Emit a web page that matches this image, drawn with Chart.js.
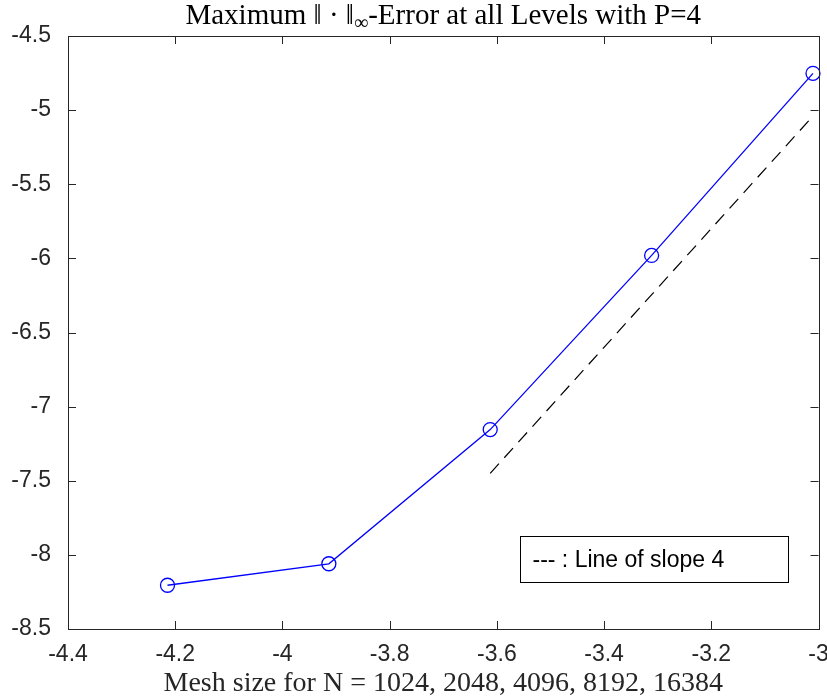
<!DOCTYPE html>
<html>
<head>
<meta charset="utf-8">
<script src="https://cdn.jsdelivr.net/npm/chart.js@4.4.0/dist/chart.umd.min.js"></script>
<style>
  html, body { margin: 0; padding: 0; background: #fff; overflow: hidden; }
  #wrap { width: 827px; height: 700px; }
  #errChart { display: block; }
</style>
</head>
<body>
<div id="wrap"><canvas id="errChart"></canvas></div>
<script>
// log10 of the mesh size h = 1/N
const meshSize = [-4.2144, -3.9134, -3.6124, -3.3113, -3.0103];
const maxError = [-8.205, -8.06, -7.155, -5.98, -4.752];
// reference line of slope 4
const slopeX = [-3.6124, -3.0103];
const slopeY = [-7.45, -5.04];
const xTicks = [-4.4, -4.2, -4, -3.8, -3.6, -3.4, -3.2, -3];
const yTicks = [-8.5, -8, -7.5, -7, -6.5, -6, -5.5, -5, -4.5];
const legendText = '--- : Line of slope 4';
// title pieces: [text, is subscript]
const titleParts = [['Maximum \u2016 \u00b7 \u2016', false], ['\u221e', true], ['-Error at all Levels with P=4', false]];

const axisColor = '#262626';
const tickFont = { family: '"Liberation Sans", Arial, sans-serif', size: 23 };
const serifFamily = '"Liberation Serif", "Times New Roman", serif';

// Box around the plot with inward tick marks (MATLAB style) + legend + title
const framePlugin = {
  id: 'frame',
  afterDatasetsDraw(chart) {
    const { ctx, chartArea: a, scales } = chart;
    const tl = 8;
    ctx.save();
    ctx.strokeStyle = axisColor;
    ctx.lineWidth = 1;
    ctx.beginPath();
    xTicks.forEach(v => {
      const px = Math.round(scales.x.getPixelForValue(v)) + 0.5;
      ctx.moveTo(px, a.bottom); ctx.lineTo(px, a.bottom - tl);
      ctx.moveTo(px, a.top); ctx.lineTo(px, a.top + tl);
    });
    yTicks.forEach(v => {
      const py = Math.round(scales.y.getPixelForValue(v)) + 0.5;
      ctx.moveTo(a.left, py); ctx.lineTo(a.left + tl, py);
      ctx.moveTo(a.right, py); ctx.lineTo(a.right - tl, py);
    });
    ctx.stroke();
    ctx.strokeRect(Math.round(a.left) + 0.5, Math.round(a.top) + 0.5,
      Math.round(a.right - a.left), Math.round(a.bottom - a.top));

    // legend box, bottom right of the axes
    const bw = 268, bh = 46;
    const bx = Math.round(a.right - 31 - bw) + 0.5;
    const by = Math.round(a.bottom - 47 - bh) + 0.5;
    ctx.fillStyle = '#fff';
    ctx.fillRect(bx, by, bw, bh);
    ctx.strokeStyle = '#000';
    ctx.strokeRect(bx, by, bw, bh);
    ctx.fillStyle = '#000';
    ctx.font = '23px "Liberation Sans", Arial, sans-serif';
    ctx.textBaseline = 'middle';
    ctx.textAlign = 'left';
    ctx.fillText(legendText, bx + 12, by + bh / 2 + 1);

    // title with subscript infinity
    const mainFont = '29px ' + serifFamily;
    const subFont = '20px ' + serifFamily;
    ctx.textBaseline = 'alphabetic';
    let total = 0;
    titleParts.forEach(([t, sub]) => { ctx.font = sub ? subFont : mainFont; total += ctx.measureText(t).width; });
    let tx = (a.left + a.right) / 2 - total / 2;
    const baseY = 24;
    titleParts.forEach(([t, sub]) => {
      ctx.font = sub ? subFont : mainFont;
      ctx.fillText(t, tx, sub ? baseY + 5 : baseY);
      tx += ctx.measureText(t).width;
    });
    ctx.restore();
  }
};

const ctx = document.getElementById('errChart').getContext('2d');
new Chart(ctx, {
  type: 'scatter',
  data: {
    datasets: [
      {
        label: 'Max error',
        data: meshSize.map((x, i) => ({ x: x, y: maxError[i] })),
        showLine: true,
        borderColor: '#0000ff',
        borderWidth: 1.3,
        pointStyle: 'circle',
        pointRadius: 7,
        pointHoverRadius: 7,
        pointBorderWidth: 1.3,
        pointBorderColor: '#0000ff',
        pointBackgroundColor: 'rgba(0,0,0,0)',
        clip: false
      },
      {
        label: 'Slope 4',
        data: slopeX.map((x, i) => ({ x: x, y: slopeY[i] })),
        showLine: true,
        borderColor: '#000',
        borderWidth: 1.2,
        borderDash: [13, 8],
        pointRadius: 0,
        clip: false
      }
    ]
  },
  options: {
    responsive: true,
    maintainAspectRatio: false,
    animation: false,
    layout: { autoPadding: false, padding: { left: 0, right: 8.5, top: 36, bottom: 0 } },
    plugins: {
      legend: { display: false },
      tooltip: { enabled: false },
      title: { display: false }
    },
    scales: {
      x: {
        type: 'linear',
        min: -4.4,
        max: -3,
        afterBuildTicks: s => { s.ticks = xTicks.map(v => ({ value: v })); },
        afterFit: s => { s.height = 71; s.paddingLeft = 0; s.paddingRight = 0; },
        grid: { display: false, drawTicks: false },
        border: { display: false },
        ticks: {
          font: tickFont,
          color: axisColor,
          padding: 12,
          maxRotation: 0,
          autoSkip: false,
          callback: v => String(v)
        },
        title: {
          display: true,
          text: 'Mesh size for N = 1024, 2048, 4096, 8192, 16384',
          color: '#262626',
          font: { family: serifFamily, size: 28 },
          padding: { top: 0, bottom: 0 }
        }
      },
      y: {
        type: 'linear',
        min: -8.5,
        max: -4.5,
        afterBuildTicks: s => { s.ticks = yTicks.map(v => ({ value: v })); },
        afterFit: s => { s.width = 68; s.paddingTop = 0; s.paddingBottom = 0; },
        grid: { display: false, drawTicks: false },
        border: { display: false },
        ticks: {
          font: tickFont,
          color: axisColor,
          padding: 17,
          autoSkip: false,
          callback: v => String(v)
        }
      }
    }
  },
  plugins: [framePlugin]
});
</script>
</body>
</html>
